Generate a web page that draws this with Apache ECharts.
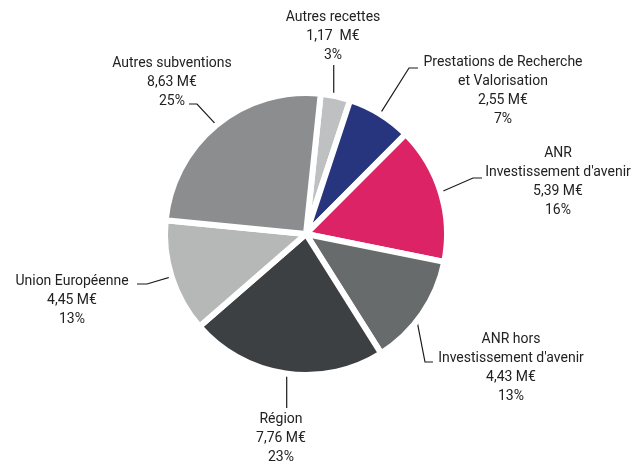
<!DOCTYPE html>
<html>
<head>
<meta charset="utf-8">
<script src="https://cdn.jsdelivr.net/npm/echarts@6/dist/echarts.min.js"></script>
<style>html,body{margin:0;padding:0;background:#fff}#c{width:639px;height:467px}</style>
</head>
<body>
<div id="c"></div>
<script>
const categories = [
  'Autres recettes',
  'Prestations de Recherche\net Valorisation',
  'ANR\nInvestissement d\'avenir',
  'ANR hors\nInvestissement d\'avenir',
  'Région',
  'Union Européenne',
  'Autres subventions'
];
const valuesMEUR = [1.17, 2.55, 5.39, 4.43, 7.76, 4.45, 8.63];
const colors = ['#bec0c1', '#27357e', '#dc2366', '#686b6b', '#3d4043', '#b6b7b7', '#8c8d8f'];

// label placement: [centerX, middleY, elbowX, elbowY, endX, endY] (null elbowX = vertical line)
const labelPlace = [
  [333, 36, null, 65, null, 65],
  [503, 91, 409, 68, 418, 68],
  [558, 182, 473, 178, 482, 178],
  [511, 368, 425, 362, 433, 362],
  [281, 438, null, 408, null, 408],
  [72, 300, 147, 284, 137, 284],
  [172, 82, 197, 104, 189, 104]
];

const CX = 306, CY = 234, R = 141, START = 84, LINE_R = 132;
const total = valuesMEUR.reduce((a, b) => a + b, 0);
const fmt = v => v.toFixed(2).replace('.', ',');
const midAngles = [];
(function () {
  let cum = 0;
  valuesMEUR.forEach(v => {
    midAngles.push((START - (cum + v / 2) / total * 360) * Math.PI / 180);
    cum += v;
  });
})();

const chart = echarts.init(document.getElementById('c'), null, {renderer: 'canvas'});
chart.setOption({
  animation: false,
  backgroundColor: '#ffffff',
  series: [{
    type: 'pie',
    center: [CX, CY],
    radius: R,
    startAngle: START,
    clockwise: true,
    avoidLabelOverlap: false,
    data: categories.map((n, i) => ({
      name: n, value: valuesMEUR[i],
      itemStyle: {color: colors[i]}
    })),
    itemStyle: {borderColor: '#ffffff', borderWidth: 6},
    label: {
      show: true,
      position: 'outside',
      fontFamily: 'Roboto',
      fontSize: 14,
      lineHeight: 19,
      color: '#222222',
      align: 'center',
      formatter: p => p.name + '\n' + fmt(p.value) + (p.dataIndex === 0 ? '  M€' : ' M€') + '\n' + Math.round(p.value / total * 100) + '%'
    },
    labelLine: {
      show: true,
      lineStyle: {color: '#1a1a1a', width: 1.2}
    },
    labelLayout: function (params) {
      const i = params.dataIndex;
      const lp = labelPlace[i];
      const a = midAngles[i];
      const s = [CX + LINE_R * Math.cos(a), CY - LINE_R * Math.sin(a)];
      const out = {x: lp[0], y: lp[1], align: 'center', verticalAlign: 'middle'};
      if (lp[2] === null) {
        out.labelLinePoints = [s, [s[0], lp[3]], [s[0], lp[5]]];
      } else {
        out.labelLinePoints = [s, [lp[2], lp[3]], [lp[4], lp[5]]];
      }
      return out;
    },
    emphasis: {disabled: true}
  }]
});
</script>
</body>
</html>
